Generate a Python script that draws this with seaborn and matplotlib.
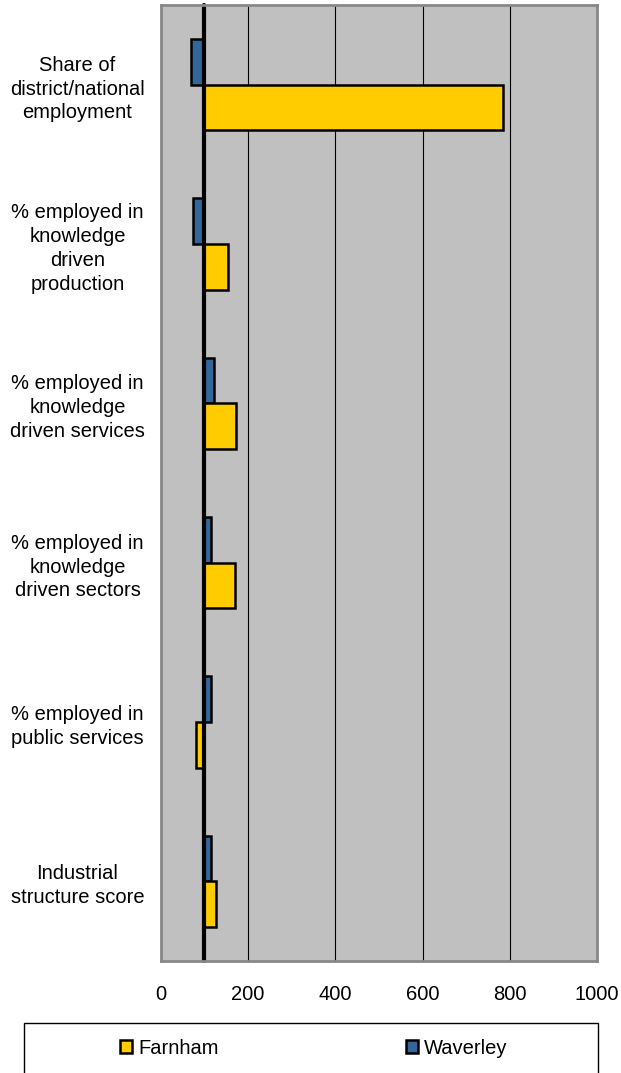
import pandas as pd
import seaborn as sns
import matplotlib.pyplot as plt
from matplotlib.patches import Patch, Rectangle

# index values, Waverley bar above Farnham bar in each group
categories = [
    "Share of\ndistrict/national\nemployment",
    "% employed in\nknowledge\ndriven\nproduction",
    "% employed in\nknowledge\ndriven services",
    "% employed in\nknowledge\ndriven sectors",
    "% employed in\npublic services",
    "Industrial\nstructure score",
]
farnham = [785, 154, 172, 170, 80, 126]
waverley = [69, 74, 122, 116, 114, 116]
series = ["Waverley", "Farnham"]
legend_order = ["Farnham", "Waverley"]
colors = {"Farnham": "#FFCC00", "Waverley": "#336699"}
base = 100
xticks = [0, 200, 400, 600, 800, 1000]

df = pd.DataFrame({
    "category": categories * 2,
    "area": ["Waverley"] * len(categories) + ["Farnham"] * len(categories),
    "value": waverley + farnham,
})

sns.set_style("white")
plt.rcParams["font.family"] = ["Liberation Sans", "DejaVu Sans"]
plt.rcParams["text.color"] = "black"
plt.rcParams["xtick.color"] = "black"
plt.rcParams["ytick.color"] = "black"

fig = plt.figure(figsize=(6.21, 10.73), dpi=100)
ax = fig.add_axes([0.259, 0.10438, 0.7025, 0.89096])
ax.set_facecolor("#C0C0C0")

sns.barplot(data=df, x="value", y="category", hue="area", hue_order=series,
            palette=colors, saturation=1, orient="h", width=0.574, gap=0,
            edgecolor="black", linewidth=1.8, legend=False, ax=ax, zorder=3)

# bars grow from the 100 baseline, not from zero
for p in ax.patches:
    w = p.get_width()
    p.set_x(base)
    p.set_width(w - base)

ax.axvline(base, color="black", lw=3, zorder=5, clip_on=False)

ax.set_xlim(0, 1000)
ax.set_xticks(xticks)
ax.set_xticklabels([str(t) for t in xticks])
ax.xaxis.grid(True, color="black", lw=0.8)
ax.set_axisbelow(True)
ax.tick_params(axis="x", length=0, pad=17, labelsize=14.5)
ax.tick_params(axis="y", length=0, pad=60, labelsize=14.5)
for lab in ax.get_yticklabels():
    lab.set_ha("center")
    lab.set_multialignment("center")
    lab.set_linespacing(1.32)
ax.set_xlabel("")
ax.set_ylabel("")
for s in ax.spines.values():
    s.set_color("#888888")
    s.set_linewidth(2)
    s.set_zorder(6)

# legend box (runs off the bottom edge like the original)
fig.patches.append(Rectangle((24 / 621, -0.05), 574 / 621, 0.05 + 1 - 1023 / 1073,
                             transform=fig.transFigure, fill=False,
                             edgecolor="black", lw=1, clip_on=False))
handles = [Patch(facecolor=colors[k], edgecolor="black", lw=1.8) for k in legend_order]
fig.legend(handles, legend_order, loc="center left", ncol=2,
           bbox_to_anchor=(120 / 621, 1 - 1048 / 1073), frameon=False,
           fontsize=14.5, handlelength=0.6, handleheight=0.6,
           handletextpad=0.3, columnspacing=9.3, borderaxespad=0,
           borderpad=0)

fig.savefig("out.png", dpi=100)
